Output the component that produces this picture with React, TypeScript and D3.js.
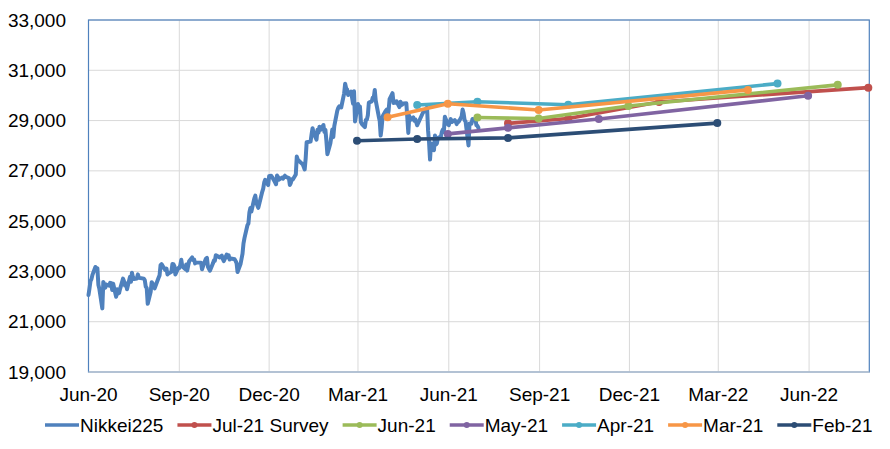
import React, { useEffect, useRef } from 'react';
import * as d3 from 'd3';

// Nikkei 225 daily closes
const nikkei: [string, number][] = [
  ['2020-06-01', 22062], ['2020-06-02', 22325], ['2020-06-03', 22613], ['2020-06-04', 22695], ['2020-06-05', 22864],
  ['2020-06-08', 23178], ['2020-06-09', 23091], ['2020-06-10', 23125], ['2020-06-11', 22473], ['2020-06-12', 22305],
  ['2020-06-15', 21530], ['2020-06-16', 22582], ['2020-06-17', 22456], ['2020-06-18', 22355], ['2020-06-19', 22479],
  ['2020-06-22', 22437], ['2020-06-23', 22549], ['2020-06-24', 22534], ['2020-06-25', 22260], ['2020-06-26', 22512],
  ['2020-06-29', 21995], ['2020-06-30', 22288],
  ['2020-07-01', 22122], ['2020-07-02', 22146], ['2020-07-03', 22306], ['2020-07-06', 22714], ['2020-07-07', 22614],
  ['2020-07-08', 22438], ['2020-07-09', 22529], ['2020-07-10', 22291], ['2020-07-13', 22784], ['2020-07-14', 22587],
  ['2020-07-15', 22945], ['2020-07-16', 22770], ['2020-07-17', 22696], ['2020-07-20', 22717], ['2020-07-21', 22884],
  ['2020-07-22', 22751], ['2020-07-27', 22715], ['2020-07-28', 22657], ['2020-07-29', 22397], ['2020-07-30', 22339],
  ['2020-07-31', 21710],
  ['2020-08-03', 22195], ['2020-08-04', 22574], ['2020-08-05', 22514], ['2020-08-06', 22418], ['2020-08-07', 22329],
  ['2020-08-11', 22750], ['2020-08-12', 22843], ['2020-08-13', 23249], ['2020-08-14', 23289], ['2020-08-17', 23097],
  ['2020-08-18', 23051], ['2020-08-19', 23111], ['2020-08-20', 22880], ['2020-08-21', 22920], ['2020-08-24', 22985],
  ['2020-08-25', 23296], ['2020-08-26', 23290], ['2020-08-27', 23209], ['2020-08-28', 22882], ['2020-08-31', 23140],
  ['2020-09-01', 23138], ['2020-09-02', 23247], ['2020-09-03', 23465], ['2020-09-04', 23205], ['2020-09-07', 23089],
  ['2020-09-08', 23274], ['2020-09-09', 23032], ['2020-09-10', 23235], ['2020-09-11', 23406], ['2020-09-14', 23559],
  ['2020-09-15', 23454], ['2020-09-16', 23475], ['2020-09-17', 23319], ['2020-09-18', 23360], ['2020-09-23', 23346],
  ['2020-09-24', 23087], ['2020-09-25', 23204], ['2020-09-28', 23511], ['2020-09-29', 23539], ['2020-09-30', 23185],
  ['2020-10-02', 23029], ['2020-10-05', 23312], ['2020-10-06', 23433], ['2020-10-07', 23422], ['2020-10-08', 23647],
  ['2020-10-09', 23619], ['2020-10-12', 23558], ['2020-10-13', 23601], ['2020-10-14', 23626], ['2020-10-15', 23507],
  ['2020-10-16', 23410], ['2020-10-19', 23671], ['2020-10-20', 23567], ['2020-10-21', 23639], ['2020-10-22', 23474],
  ['2020-10-23', 23516], ['2020-10-26', 23494], ['2020-10-27', 23485], ['2020-10-28', 23418], ['2020-10-29', 23331],
  ['2020-10-30', 22977],
  ['2020-11-02', 23295], ['2020-11-04', 23695], ['2020-11-05', 24105], ['2020-11-06', 24325], ['2020-11-09', 24839],
  ['2020-11-10', 24905], ['2020-11-11', 25349], ['2020-11-12', 25520], ['2020-11-13', 25385], ['2020-11-16', 25906],
  ['2020-11-17', 26014], ['2020-11-18', 25728], ['2020-11-19', 25634], ['2020-11-20', 25527], ['2020-11-24', 26165],
  ['2020-11-25', 26296], ['2020-11-26', 26537], ['2020-11-27', 26644], ['2020-11-30', 26433],
  ['2020-12-01', 26787], ['2020-12-02', 26800], ['2020-12-03', 26809], ['2020-12-04', 26751], ['2020-12-07', 26547],
  ['2020-12-08', 26467], ['2020-12-09', 26817], ['2020-12-10', 26756], ['2020-12-11', 26652], ['2020-12-14', 26732],
  ['2020-12-15', 26687], ['2020-12-16', 26757], ['2020-12-17', 26806], ['2020-12-18', 26763], ['2020-12-21', 26714],
  ['2020-12-22', 26436], ['2020-12-23', 26524], ['2020-12-24', 26668], ['2020-12-25', 26656], ['2020-12-28', 26854],
  ['2020-12-29', 27568], ['2020-12-30', 27444],
  ['2021-01-04', 27258], ['2021-01-05', 27158], ['2021-01-06', 27056], ['2021-01-07', 27490], ['2021-01-08', 28139],
  ['2021-01-12', 28164], ['2021-01-13', 28456], ['2021-01-14', 28698], ['2021-01-15', 28519], ['2021-01-18', 28242],
  ['2021-01-19', 28633], ['2021-01-20', 28523], ['2021-01-21', 28756], ['2021-01-22', 28631], ['2021-01-25', 28822],
  ['2021-01-26', 28546], ['2021-01-27', 28635], ['2021-01-28', 28197], ['2021-01-29', 27663],
  ['2021-02-01', 28091], ['2021-02-02', 28362], ['2021-02-03', 28646], ['2021-02-04', 28341], ['2021-02-05', 28779],
  ['2021-02-08', 29388], ['2021-02-09', 29505], ['2021-02-10', 29562], ['2021-02-12', 29520], ['2021-02-15', 30084],
  ['2021-02-16', 30467], ['2021-02-17', 30292], ['2021-02-18', 30236], ['2021-02-19', 30017], ['2021-02-22', 30156],
  ['2021-02-24', 29671], ['2021-02-25', 30168], ['2021-02-26', 28966],
  ['2021-03-01', 29663], ['2021-03-02', 29408], ['2021-03-03', 29559], ['2021-03-04', 28930], ['2021-03-05', 28864],
  ['2021-03-08', 28743], ['2021-03-09', 29027], ['2021-03-10', 29036], ['2021-03-11', 29211], ['2021-03-12', 29717],
  ['2021-03-15', 29766], ['2021-03-16', 29921], ['2021-03-17', 29914], ['2021-03-18', 30216], ['2021-03-19', 29792],
  ['2021-03-22', 29174], ['2021-03-23', 28995], ['2021-03-24', 28405], ['2021-03-25', 28729], ['2021-03-26', 29176],
  ['2021-03-29', 29384], ['2021-03-30', 29432], ['2021-03-31', 29178],
  ['2021-04-01', 29388], ['2021-04-02', 29854], ['2021-04-05', 30089], ['2021-04-06', 29696], ['2021-04-07', 29730],
  ['2021-04-08', 29708], ['2021-04-09', 29768], ['2021-04-12', 29538], ['2021-04-13', 29751], ['2021-04-14', 29620],
  ['2021-04-15', 29642], ['2021-04-16', 29683], ['2021-04-19', 29685], ['2021-04-20', 29100], ['2021-04-21', 28508],
  ['2021-04-22', 29188], ['2021-04-23', 29020], ['2021-04-26', 29126], ['2021-04-27', 28991], ['2021-04-28', 29053],
  ['2021-04-30', 28812],
  ['2021-05-06', 29331], ['2021-05-07', 29357], ['2021-05-10', 29518], ['2021-05-11', 28608], ['2021-05-12', 28147],
  ['2021-05-13', 27448], ['2021-05-14', 28084], ['2021-05-17', 27824], ['2021-05-18', 28406], ['2021-05-19', 28044],
  ['2021-05-20', 28098], ['2021-05-21', 28317], ['2021-05-24', 28364], ['2021-05-25', 28553], ['2021-05-26', 28642],
  ['2021-05-27', 28549], ['2021-05-28', 29149], ['2021-05-31', 28860],
  ['2021-06-01', 28814], ['2021-06-02', 28946], ['2021-06-03', 29058], ['2021-06-04', 28941], ['2021-06-07', 29019],
  ['2021-06-08', 28963], ['2021-06-09', 28860], ['2021-06-10', 28958], ['2021-06-11', 28948], ['2021-06-14', 29161],
  ['2021-06-15', 29441], ['2021-06-16', 29291], ['2021-06-17', 29018], ['2021-06-18', 28964], ['2021-06-21', 28010],
  ['2021-06-22', 28884], ['2021-06-23', 28874], ['2021-06-24', 28875], ['2021-06-25', 29066], ['2021-06-28', 29048],
  ['2021-06-29', 28812], ['2021-06-30', 28791], ['2021-07-01', 28707],
];

// Survey forecasts (survey month-end, +2M, +5M, +12M)
const jul21Dates = ['2021-07-31', '2021-09-30', '2021-12-31', '2022-07-31'];
const jul21Values = [28890, 29080, 29740, 30310];
const jun21Dates = ['2021-06-30', '2021-08-31', '2021-11-30', '2022-06-30'];
const jun21Values = [29120, 29080, 29580, 30420];
const may21Dates = ['2021-05-31', '2021-07-31', '2021-10-31', '2022-05-31'];
const may21Values = [28470, 28710, 29060, 29990];
const apr21Dates = ['2021-04-30', '2021-06-30', '2021-09-30', '2022-04-30'];
const apr21Values = [29620, 29750, 29630, 30470];
const mar21Dates = ['2021-03-31', '2021-05-31', '2021-08-31', '2022-03-31'];
const mar21Values = [29130, 29670, 29420, 30220];
const feb21Dates = ['2021-02-28', '2021-04-30', '2021-07-31', '2022-02-28'];
const feb21Values = [28200, 28270, 28310, 28900];

const yTicks = [19000, 21000, 23000, 25000, 27000, 29000, 31000, 33000];
const xTickDates = ['2020-06-01', '2020-09-01', '2020-12-01', '2021-03-01', '2021-06-01', '2021-09-01', '2021-12-01', '2022-03-01', '2022-06-01'];
const xTickLabels = ['Jun-20', 'Sep-20', 'Dec-20', 'Mar-21', 'Jun-21', 'Sep-21', 'Dec-21', 'Mar-22', 'Jun-22'];

const W = 890;
const H = 449;
const FONT = '"Liberation Sans", Arial, sans-serif';

const parse = d3.utcParse('%Y-%m-%d');

export default function App() {
  const ref = useRef<SVGSVGElement>(null);

  useEffect(() => {
    const svg = d3.select(ref.current);
    svg.selectAll('*').remove();

    const left = 88.5, right = 869.3, top = 20, bottom = 372;
    const x = d3.scaleUtc().domain([parse('2020-06-01')!, parse('2022-08-01')!]).range([left, right]);
    const y = d3.scaleLinear().domain([19000, 33000]).range([bottom, top]);

    const g = svg.append('g');
    g.selectAll('line.hg').data(yTicks).join('line')
      .attr('x1', left).attr('x2', right)
      .attr('y1', (d) => y(d)).attr('y2', (d) => y(d))
      .attr('stroke', '#D9D9D9').attr('stroke-width', 1);
    g.selectAll('line.vg').data(xTickDates).join('line')
      .attr('x1', (d) => x(parse(d)!)).attr('x2', (d) => x(parse(d)!))
      .attr('y1', top).attr('y2', bottom)
      .attr('stroke', '#D9D9D9').attr('stroke-width', 1);

    g.append('rect').attr('x', left).attr('y', top).attr('width', right - left).attr('height', bottom - top)
      .attr('fill', 'none').attr('stroke', '#4F81BD').attr('stroke-width', 1.2);
    g.append('line').attr('x1', left).attr('x2', right).attr('y1', bottom).attr('y2', bottom)
      .attr('stroke', '#D9D9D9').attr('stroke-width', 1.2);

    g.selectAll('text.yl').data(yTicks).join('text')
      .attr('x', 66).attr('y', (d) => y(d) + 6.6)
      .attr('text-anchor', 'end')
      .attr('font-family', FONT).attr('font-size', 19).attr('fill', '#000')
      .text((d) => d3.format(',')(d));
    g.selectAll('text.xl').data(xTickDates).join('text')
      .attr('x', (d) => x(parse(d)!)).attr('y', 401)
      .attr('text-anchor', 'middle')
      .attr('font-family', FONT).attr('font-size', 19).attr('fill', '#000')
      .text((_d, i) => xTickLabels[i]);

    const lineGen = d3.line<[Date, number]>().x((d) => x(d[0])).y((d) => y(d[1]));

    const nk: [Date, number][] = nikkei.map(([d, v]) => [parse(d)!, v]);
    g.append('path').datum(nk).attr('d', lineGen)
      .attr('fill', 'none').attr('stroke', '#4F81BD').attr('stroke-width', 4)
      .attr('stroke-linejoin', 'round').attr('stroke-linecap', 'round');

    const surveys = [
      { name: 'Jul-21 Survey', dates: jul21Dates, values: jul21Values, color: '#C0504D' },
      { name: 'Jun-21', dates: jun21Dates, values: jun21Values, color: '#9BBB59' },
      { name: 'May-21', dates: may21Dates, values: may21Values, color: '#8064A2' },
      { name: 'Apr-21', dates: apr21Dates, values: apr21Values, color: '#4BACC6' },
      { name: 'Mar-21', dates: mar21Dates, values: mar21Values, color: '#F79646' },
      { name: 'Feb-21', dates: feb21Dates, values: feb21Values, color: '#2C4D75' },
    ];

    surveys.forEach((s) => {
      const pts: [Date, number][] = s.dates.map((d, i) => [parse(d)!, s.values[i]]);
      g.append('path').datum(pts).attr('d', lineGen)
        .attr('fill', 'none').attr('stroke', s.color).attr('stroke-width', 3.6)
        .attr('stroke-linejoin', 'round').attr('stroke-linecap', 'round');
      g.selectAll(null).data(pts).join('circle')
        .attr('cx', (d) => x(d[0])).attr('cy', (d) => y(d[1])).attr('r', 4)
        .attr('fill', s.color);
    });

    const legendItems = [{ name: 'Nikkei225', color: '#4F81BD', marker: false }]
      .concat(surveys.map((s) => ({ name: s.name, color: s.color, marker: true })));
    let cx = 45;
    const ly = 425;
    legendItems.forEach((it) => {
      const lg = svg.append('g');
      lg.append('line').attr('x1', cx).attr('x2', cx + 34).attr('y1', ly).attr('y2', ly)
        .attr('stroke', it.color).attr('stroke-width', 3.6);
      if (it.marker) {
        lg.append('circle').attr('cx', cx + 17).attr('cy', ly).attr('r', 3).attr('fill', it.color);
      }
      const t = lg.append('text').attr('x', cx + 35).attr('y', 431.5)
        .attr('font-family', FONT).attr('font-size', 19).attr('fill', '#000').text(it.name);
      const w = (t.node() as SVGTextElement).getComputedTextLength();
      cx = cx + 35 + w + 14;
    });
  }, []);

  return (
    <svg ref={ref} width={W} height={H} style={{ position: 'absolute', left: 0, top: 0, background: '#fff' }} />
  );
}
